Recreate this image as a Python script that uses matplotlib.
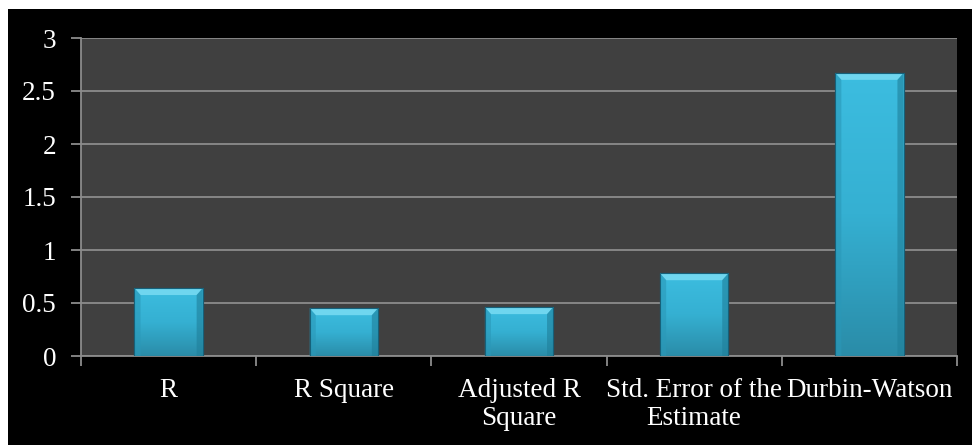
import numpy as np
import matplotlib.pyplot as plt
from matplotlib.patches import Rectangle, Polygon
from matplotlib.colors import LinearSegmentedColormap

labels = ['R', 'R Square', 'Adjusted R\nSquare', 'Std. Error of the\nEstimate', 'Durbin-Watson']
values = [0.64, 0.45, 0.46, 0.78, 2.67]
yticks = [0, 0.5, 1, 1.5, 2, 2.5, 3]

plt.rcParams['font.family'] = ['Liberation Serif', 'DejaVu Serif']

fig = plt.figure(figsize=(9.72, 4.45), dpi=100, facecolor='white')
# black chart frame behind the axes
fig.add_artist(Rectangle((8 / 972, 0), 1, 1 - 9 / 445, transform=fig.transFigure,
                         facecolor='black', edgecolor='none', zorder=-10))

ax = fig.add_axes([81 / 972, 1 - 356 / 445, 876 / 972, 318 / 445])
ax.set_zorder(1)
ax.set_facecolor('#404040')

x = np.arange(len(labels))
w = 0.39
bars = ax.bar(x, values, width=w, color='#35b3d6', edgecolor='#1f6f85', linewidth=0.8, zorder=3)

# vertical gradient + bevel on each bar
grad = np.linspace(0, 1, 256).reshape(-1, 1)
cmap = LinearSegmentedColormap.from_list('bar', ['#2a8ca8', '#35b0d2', '#3cbde0'])
bx = 0.035
by = 0.065
for b, v in zip(bars, values):
    x0 = b.get_x()
    x1 = x0 + b.get_width()
    im = ax.imshow(grad, cmap=cmap, aspect='auto', origin='lower',
                   extent=[x0, x1, 0, v], zorder=3.1)
    im.set_clip_path(b)
    ax.add_patch(Polygon([[x0, v], [x1, v], [x1 - bx, v - by], [x0 + bx, v - by]],
                         closed=True, facecolor='#6fd6ef', edgecolor='none', zorder=3.2))
    ax.add_patch(Polygon([[x0, 0], [x0, v], [x0 + bx, v - by], [x0 + bx, 0]],
                         closed=True, facecolor='#2a98b8', edgecolor='none', alpha=0.6, zorder=3.2))
    ax.add_patch(Polygon([[x1, 0], [x1, v], [x1 - bx, v - by], [x1 - bx, 0]],
                         closed=True, facecolor='#1f7f9a', edgecolor='none', alpha=0.6, zorder=3.2))
    ax.add_patch(Rectangle((x0, 0), x1 - x0, v, facecolor='none', edgecolor='#16617a',
                           linewidth=0.8, zorder=3.3))

ax.set_xlim(-0.5, len(labels) - 0.5)
ax.set_ylim(0, 3)
ax.set_yticks(yticks)
ax.set_yticklabels([f'{t:g}' for t in yticks], color='white', fontsize=19.5)
ax.yaxis.grid(True, color='#8c8c8c', linewidth=1.3, zorder=1)
ax.set_axisbelow(True)

# category labels between boundary ticks
ax.set_xticks(np.arange(-0.5, len(labels), 1))
ax.set_xticklabels([])
ax.set_xticks(x, minor=True)
ax.set_xticklabels(labels, minor=True, color='white', fontsize=19.5, linespacing=1.12)
ax.tick_params(axis='x', which='minor', length=0, pad=16)
ax.tick_params(axis='x', which='major', length=7, color='#8c8c8c', width=1.3)
ax.tick_params(axis='y', length=7, color='#8c8c8c', width=1.3, pad=11)

for s in ['top', 'right']:
    ax.spines[s].set_visible(False)
for s in ['left', 'bottom']:
    ax.spines[s].set_color('#8c8c8c')
    ax.spines[s].set_linewidth(1.3)

fig.savefig('out.png', dpi=100, facecolor='white')
